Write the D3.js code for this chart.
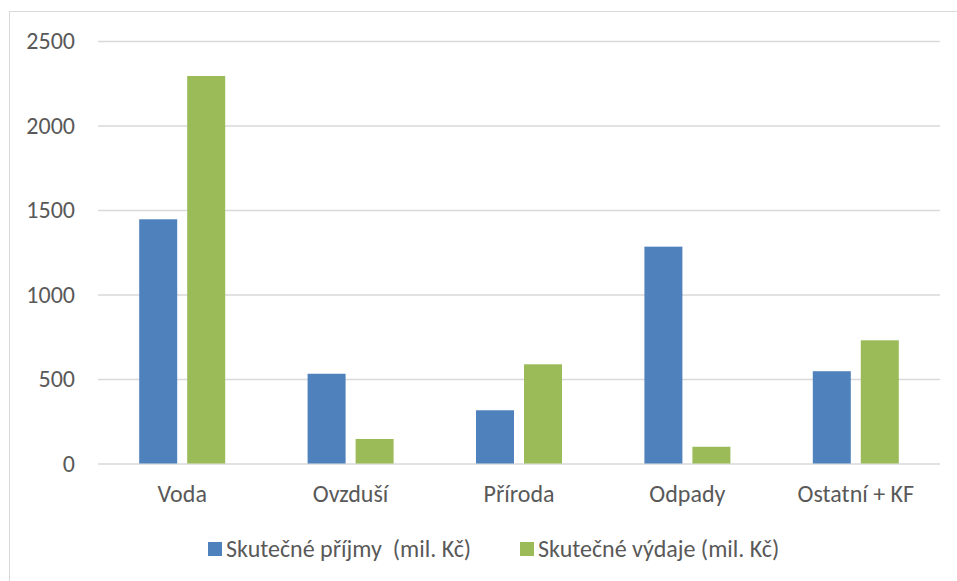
<!DOCTYPE html>
<html>
<head>
<meta charset="utf-8">
<script src="https://cdn.jsdelivr.net/npm/d3@7"></script>
<style>
  html, body { margin: 0; padding: 0; background: #fff; }
  svg text { font-family: Carlito, Lato, sans-serif; fill: #595959; }
</style>
</head>
<body>
<svg id="chart" width="957" height="581"></svg>
<script>
const categories = ['Voda', 'Ovzduší', 'Příroda', 'Odpady', 'Ostatní + KF'];
const seriesNames = ['Skutečné příjmy  (mil. Kč)', 'Skutečné výdaje (mil. Kč)'];
const prijmy = [1445, 531, 315, 1283, 546];
const vydaje = [2293, 145, 587, 99, 729];
const yTicks = [0, 500, 1000, 1500, 2000, 2500];
const colors = ['#4f81bd', '#9bbb59'];

const fontSize = 24;
const fontFamily = 'Carlito, Lato, sans-serif';

const svg = d3.select('#chart');
const plot = { left: 98, right: 940, top: 41, bottom: 463.5 };

// chart area frame (runs off the page on the right and bottom)
svg.append('rect')
  .attr('x', 9.5)
  .attr('y', 11.5)
  .attr('width', 1000)
  .attr('height', 1000)
  .attr('fill', 'none')
  .attr('stroke', '#d9d9d9');

const x = d3.scaleBand()
  .domain(categories)
  .range([plot.left, plot.right]);

const xInner = d3.scaleBand()
  .domain([0, 1])
  .range([0, 86])
  .paddingInner(10 / 48);

const y = d3.scaleLinear()
  .domain([0, 2500])
  .range([plot.bottom, plot.top]);

// gridlines + labels
const yAxis = d3.axisLeft(y)
  .tickValues(yTicks)
  .tickSize(-(plot.right - plot.left))
  .tickPadding(23)
  .tickFormat(d3.format('d'));

svg.append('g')
  .attr('transform', `translate(${plot.left},0)`)
  .call(yAxis)
  .call(g => g.select('.domain').remove())
  .call(g => g.selectAll('line').attr('stroke', '#d9d9d9').attr('stroke-width', 1.5))
  .call(g => g.selectAll('text').attr('font-size', fontSize).attr('fill', '#595959')
    .style('font-family', fontFamily));

const rows = categories.map((c, i) => ({ c, vals: [prijmy[i], vydaje[i]] }));
const offset = (x.bandwidth() - 86) / 2;

svg.append('g')
  .selectAll('g')
  .data(rows)
  .join('g')
  .attr('transform', d => `translate(${x(d.c) + offset},0)`)
  .selectAll('rect')
  .data(d => d.vals.map((v, j) => ({ v, j })))
  .join('rect')
  .attr('x', d => xInner(d.j))
  .attr('width', xInner.bandwidth())
  .attr('y', d => y(d.v))
  .attr('height', d => y(0) - y(d.v))
  .attr('fill', d => colors[d.j]);

// category labels
const xAxis = d3.axisBottom(x).tickSize(0);
svg.append('g')
  .attr('transform', `translate(0,${plot.bottom})`)
  .call(xAxis)
  .call(g => g.select('.domain').remove())
  .call(g => g.selectAll('text')
    .attr('y', 30)
    .attr('dy', '0.35em')
    .attr('font-size', fontSize).attr('fill', '#595959')
    .style('font-family', fontFamily));

// legend
const legendX = [208, 520];
const legend = svg.append('g')
  .selectAll('g')
  .data(seriesNames)
  .join('g')
  .attr('transform', (d, i) => `translate(${legendX[i]},549)`);

legend.append('rect')
  .attr('x', 0)
  .attr('y', -7)
  .attr('width', 14)
  .attr('height', 14)
  .attr('fill', (d, i) => colors[i]);

legend.append('text')
  .attr('x', 18)
  .attr('dy', '0.35em')
  .attr('font-size', fontSize)
  .style('white-space', 'pre')
  .text(d => d);
</script>
</body>
</html>
